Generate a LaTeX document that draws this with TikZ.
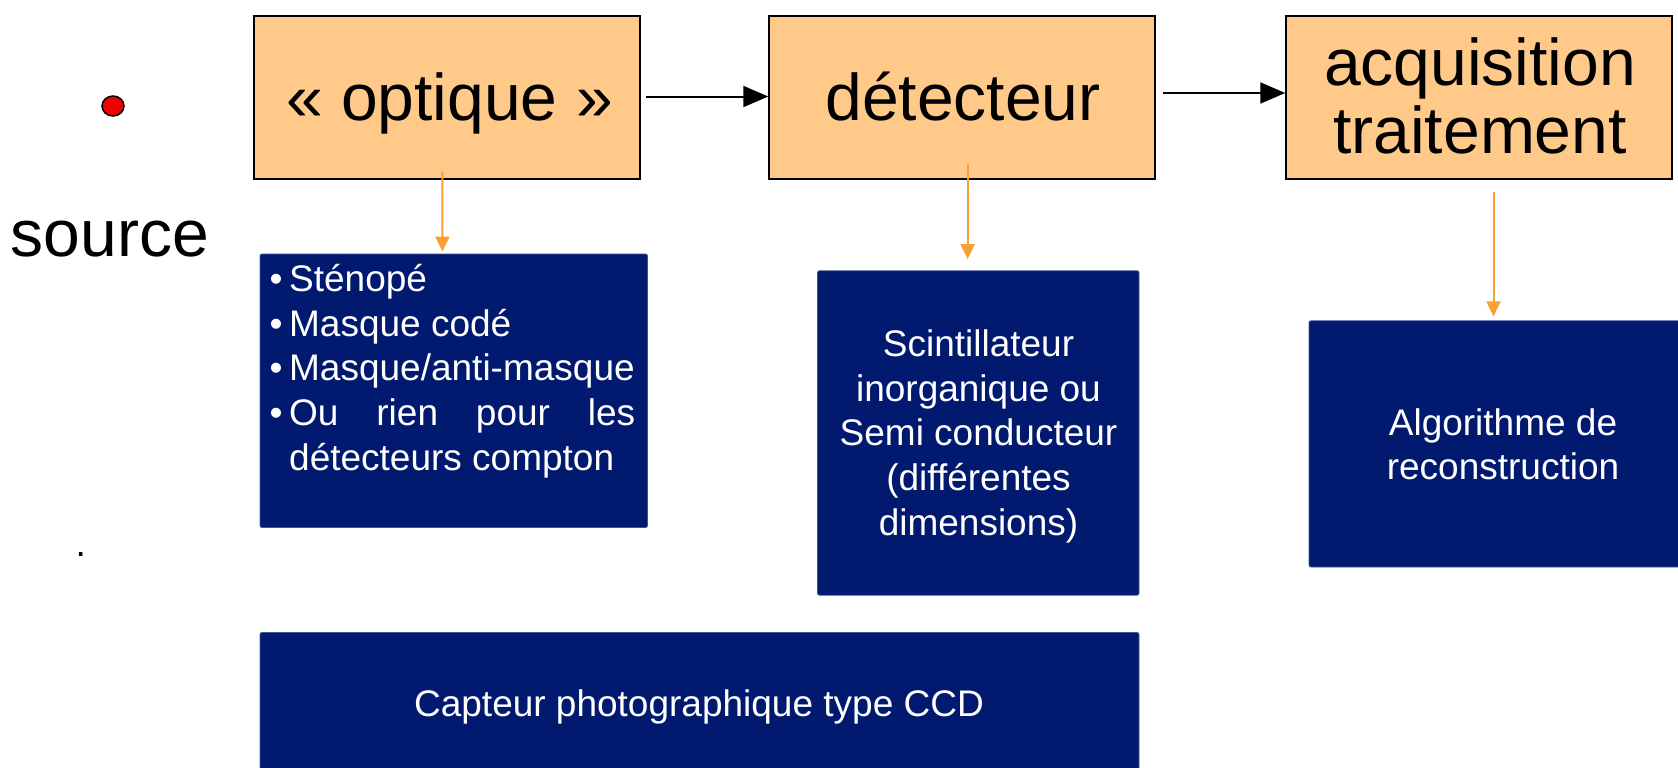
\documentclass[tikz,border=0pt]{standalone}
\usepackage{fontspec}
\setmainfont{Liberation Sans}
\usetikzlibrary{arrows.meta,shapes.geometric}

\definecolor{stagefill}{RGB}{255,201,137}
\definecolor{deepnavy}{RGB}{1,25,110}
\definecolor{linkorange}{RGB}{247,160,52}
\definecolor{dotred}{RGB}{240,0,0}

\newcommand\itembullet{\llap{\textbullet\hspace{6.5pt}}}

\begin{document}
\begin{tikzpicture}[x=1pt,y=-1pt,
  stage/.style={draw=black, line width=2pt, fill=stagefill,
    minimum width=386pt, minimum height=163pt, inner sep=0pt},
  infobox/.style={fill=deepnavy, draw=deepnavy!75!white, line width=0.8pt,
    rounded corners=2pt, inner sep=0pt},
  bigtext/.style={font={\fontsize{66}{68}\selectfont}, inner sep=0pt},
  infotext/.style={font={\fontsize{37}{44.6}\selectfont}, text=white, inner sep=0pt},
  flow/.style={line width=2pt, -{Triangle[length=25pt,width=21pt]}},
  detail/.style={draw=linkorange, line width=2pt,
    -{Triangle[length=15pt,width=14pt]}}
]
\clip (0,0) rectangle (1678,768);

% source
\node[ellipse, draw=black, line width=1.5pt, fill=dotred,
  minimum width=22pt, minimum height=20pt, inner sep=0pt] (src) at (113,106) {};
\node[bigtext, anchor=base west] (srctxt) at (10.7,256) {source};
\node[infotext, text=black, anchor=base west] (dot) at (75.5,556.5) {.};

% processing chain
\node[stage] (opt) at (446.55,97.5) {};
\node[stage] (det) at (962.25,97.5) {};
\node[stage] (acq) at (1479.25,97.5) {};

\node[bigtext, anchor=base] (opttxt) at (449.5,120) {« optique »};
\node[bigtext, anchor=base] (dettxt) at (963,120) {détecteur};
\node[bigtext, anchor=base] (acqtxt) at (1480,85)
  {\begin{tabular}[t]{@{}c@{}}acquisition\\traitement\end{tabular}};

\draw[flow] ([xshift=5.5pt,yshift=1pt]opt.east) -- ([yshift=1pt]det.west);
\draw[flow] ([xshift=6.5pt,yshift=4.5pt]det.east) -- ([yshift=4.5pt]acq.west);

% detail boxes
\node[infobox, minimum width=387.5pt, minimum height=273.5pt] (optbox) at (453.75,390.75) {};
\node[infobox, minimum width=321.5pt, minimum height=324.4pt] (scintbox) at (978.25,433) {};
\node[infobox, minimum width=388pt, minimum height=246.2pt] (algobox) at (1503,443.9) {};
\node[infobox, minimum width=879pt, minimum height=142.5pt] (ccdbox) at (699.5,703.75) {};

\node[infotext, anchor=base west] (optlist) at (289,291.7)
  {\begin{tabular}[t]{@{}l@{}}
   \itembullet Sténopé\\
   \itembullet Masque codé\\
   \itembullet Masque/anti-masque\\
   \itembullet\makebox[346pt][s]{Ou rien pour les}\\
   détecteurs compton
   \end{tabular}};
\node[infotext, anchor=base] (scinttxt) at (978.5,356.7)
  {\begin{tabular}[t]{@{}c@{}}Scintillateur\\inorganique ou\\Semi conducteur\\(différentes\\dimensions)\end{tabular}};
\node[infotext, anchor=base] (algotxt) at (1503,435)
  {\begin{tabular}[t]{@{}c@{}}Algorithme de\\reconstruction\end{tabular}};
\node[infotext, anchor=base] (ccdtxt) at (699,716) {Capteur photographique type CCD};

\draw[detail] ([xshift=-4.1pt,yshift=8.3pt]opt.south) -- ([xshift=-11.35pt,yshift=2pt]optbox.north);
\draw[detail] ([xshift=5.35pt,yshift=16pt]det.south) -- ([xshift=-10.65pt,yshift=11.3pt]scintbox.north);
\draw[detail] ([xshift=14.25pt,yshift=-11.7pt]acq.south) -- ([xshift=-9.5pt,yshift=4pt]algobox.north);
\end{tikzpicture}
\end{document}
